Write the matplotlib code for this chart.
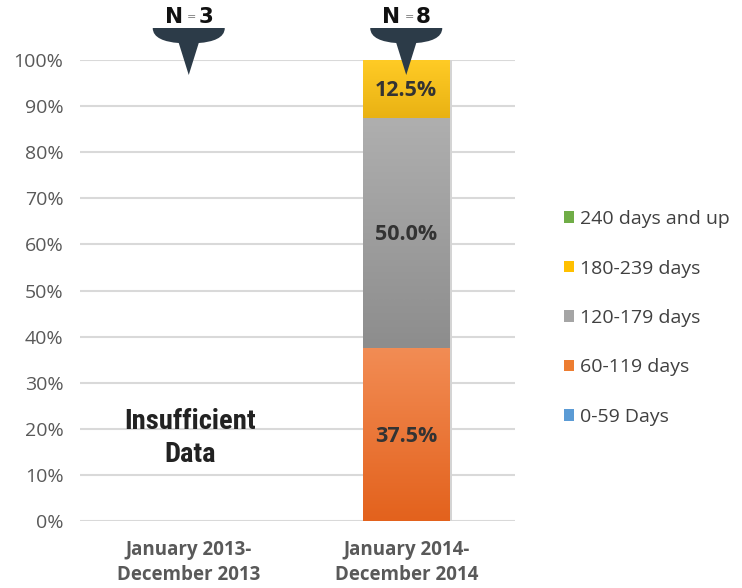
import numpy as np
import matplotlib
matplotlib.use("Agg")
import matplotlib.pyplot as plt
from matplotlib import font_manager
from matplotlib.colors import LinearSegmentedColormap
from matplotlib.path import Path
from matplotlib.patches import PathPatch, Patch

plt.rcParams['font.family'] = ['Open Sans', 'DejaVu Sans']

# data
periods = ["January 2013-\nDecember 2013", "January 2014-\nDecember 2014"]
sample_n = [3, 8]
bands = ["0-59 Days", "60-119 days", "120-179 days", "180-239 days", "240 days and up"]
share_2013 = [np.nan, np.nan, np.nan, np.nan, np.nan]   # insufficient data
share_2014 = [0.0, 0.375, 0.50, 0.125, 0.0]
yticks = [0, 0.1, 0.2, 0.3, 0.4, 0.5, 0.6, 0.7, 0.8, 0.9, 1.0]

band_colors = ["#5B9BD5", "#ED7D31", "#A5A5A5", "#FFC000", "#70AD47"]
# top / bottom colour of each segment's gradient
grad = {
    "60-119 days": ("#F28C54", "#E3621D"),
    "120-179 days": ("#AFAFAF", "#8D8D8D"),
    "180-239 days": ("#FFCB25", "#E9B214"),
}

# narrow bold face for the "Insufficient Data" note
installed = {f.name for f in font_manager.fontManager.ttflist}
narrow = next((f for f in ["Roboto Condensed", "Liberation Sans Narrow", "Open Sans Condensed",
                           "Roboto"] if f in installed), "DejaVu Sans")

fig = plt.figure(figsize=(7.42, 5.88), dpi=100)
ax = fig.add_axes([80 / 742, 67 / 588, 435 / 742, 461 / 588])

bar_w = 0.4
columns = [share_2013, share_2014]
for i, shares in enumerate(columns):
    bottom = 0.0
    for band, val, col in zip(bands, shares, band_colors):
        if np.isnan(val) or val <= 0:
            continue
        x0, x1 = i - bar_w / 2, i + bar_w / 2
        # soft shadow on the right
        ax.bar(i + 0.012, val, bar_w, bottom=bottom, color="#d4d4d4", zorder=2)
        top_c, bot_c = grad.get(band, (col, col))
        cmap = LinearSegmentedColormap.from_list(band, [bot_c, top_c])
        g = np.linspace(0, 1, 100).reshape(-1, 1)
        ax.imshow(g, cmap=cmap, extent=(x0, x1, bottom, bottom + val),
                  origin="lower", aspect="auto", zorder=3)
        ax.text(i, bottom + val / 2 - 0.004, f"{val * 100:.1f}%", ha="center", va="center",
                fontsize=15.5, fontweight="bold", color="#333333", zorder=5)
        bottom += val

ax.set_xlim(-0.5, 1.5)
ax.set_ylim(0, 1)

ax.set_yticks(yticks)
ax.set_yticklabels([f"{int(round(t * 100))}%" for t in yticks])
ax.set_xticks(range(len(periods)))
ax.set_xticklabels(periods, fontweight="bold", fontsize=13.5, color="#595959", linespacing=1.3)
ax.tick_params(axis="y", length=0, pad=12, labelsize=14, labelcolor="#595959")
ax.tick_params(axis="x", length=0, pad=14)
ax.grid(axis="y", color="#D9D9D9", linewidth=1.5, zorder=0)
ax.set_axisbelow(True)
for s in ax.spines.values():
    s.set_visible(False)

ax.text(0.005, 0.18, "Insufficient\nData", ha="center", va="center", fontsize=20.5,
        fontweight="bold", color="#222222", linespacing=1.3,
        family=[narrow, "DejaVu Sans"])

# N = x pointer markers above each column
fig.canvas.draw()
H = 588
for i, n in enumerate(sample_n):
    cx = ax.transData.transform((i, 0))[0]
    top = H - 28
    verts = [(cx - 36, top), (cx + 36, top),
             (cx + 36, top - 10), (cx + 24, top - 14), (cx + 10, top - 15),
             (cx, top - 47),
             (cx - 10, top - 15),
             (cx - 24, top - 14), (cx - 36, top - 10), (cx - 36, top),
             (cx - 36, top)]
    codes = [Path.MOVETO, Path.LINETO,
             Path.CURVE4, Path.CURVE4, Path.CURVE4,
             Path.LINETO, Path.LINETO,
             Path.CURVE4, Path.CURVE4, Path.CURVE4,
             Path.CLOSEPOLY]
    fig.patches.append(PathPatch(Path(verts, codes), facecolor="#2C3B48",
                                 edgecolor="none", transform=None))
    ty = H - 17
    fig.text(cx - 15, ty, "N", ha="center", va="center", fontsize=15.5,
             fontweight="heavy", color="#111111", transform=None,
             family=["DejaVu Sans"])
    fig.text(cx + 3, ty, "=", ha="center", va="center", fontsize=8,
             color="#777777", transform=None, family=["DejaVu Sans"])
    fig.text(cx + 17, ty, str(n), ha="center", va="center", fontsize=15.5,
             fontweight="heavy", color="#111111", transform=None,
             family=["DejaVu Sans"])

handles = [Patch(facecolor=c, edgecolor="none") for c in band_colors][::-1]
fig.legend(handles, bands[::-1], loc="center left",
           bbox_to_anchor=(554 / 742, (588 - 318) / 588),
           frameon=False, fontsize=14, labelcolor="#404040", labelspacing=1.62,
           handlelength=0.55, handleheight=0.55, handletextpad=0.3, borderpad=0)

fig.savefig("out.png", dpi=100)
